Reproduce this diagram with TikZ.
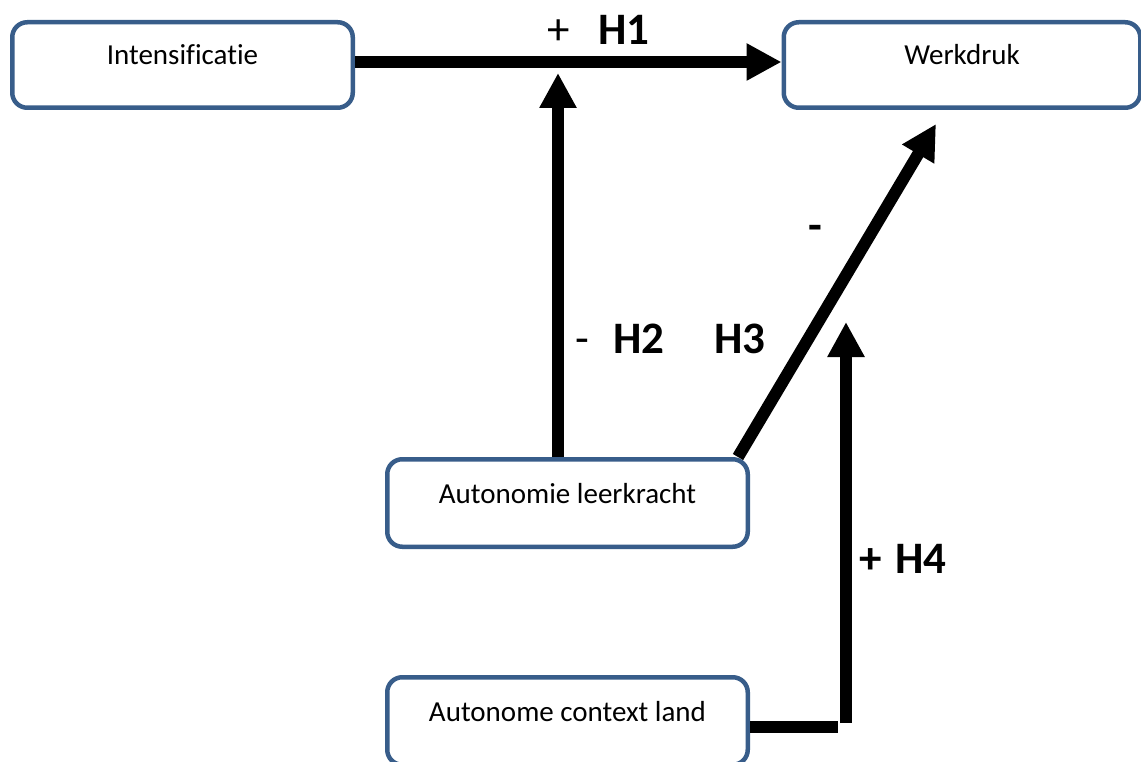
\documentclass[tikz,border=0pt]{standalone}
\usepackage{fontspec}
\setmainfont{Carlito}[Ligatures=NoCommon]
\usetikzlibrary{arrows.meta}
\definecolor{boxblue}{HTML}{385D8A}
\begin{document}
\begin{tikzpicture}[x=1pt,y=-1pt,
  box/.style={draw=boxblue, line width=4.5pt, fill=white, rounded corners=15pt, inner sep=0pt,
    text height=20pt, text depth=20pt, font=\fontsize{29}{35}\selectfont, align=center},
  conn/.style={line width=12pt, -{Triangle[length=35pt,width=35pt]}},
  plainline/.style={line width=12pt},
  lbl/.style={inner sep=0pt, anchor=base, font=\fontsize{45}{54}\selectfont\bfseries},
  lblr/.style={inner sep=0pt, anchor=base, font=\fontsize{45}{54}\selectfont}]
\useasboundingbox (0,0) rectangle (1141,762);
\clip (0,0) rectangle (1141,762);

\node[box, minimum width=340.5pt, minimum height=85.5pt] (int) at (182.5,65) {Intensificatie};
\node[box, minimum width=356.5pt, minimum height=85.5pt] (werk) at (962,65) {Werkdruk};
\node[box, minimum width=360.5pt, minimum height=87.5pt] (aut) at (567.5,503) {Autonomie leerkracht};
\node[box, minimum width=360.5pt, minimum height=87.5pt] (ctx) at (567.5,721) {Autonome context land};

\coordinate (h2tip) at (558,73);
\coordinate (h3tip) at (936,124);
\coordinate (h4corner) at (838,727);
\coordinate (h4bot) at (846,723);
\coordinate (h4tip) at (846,322);

\draw[conn] ([yshift=3pt]int.east) -- ([yshift=3pt]werk.west);
\draw[conn] (aut.north -| h2tip) -- (h2tip);
\draw[conn] ([xshift=-12pt]aut.north east) -- (h3tip);
\draw[plainline] ([yshift=-6pt]ctx.east) -- (h4corner);
\draw[conn] (h4bot) -- (h4tip);

\node[lblr] (p1) at (559,45) {+};
\node[lbl] (h1) at (624,45) {H1};
\node[lblr] (m2) at (582,353) {-};
\node[lbl] (h2) at (639,353) {H2};
\node[lbl] (h3) at (740,353) {H3};
\node[lbl] (m3) at (815,241) {-};
\node[lbl] (p4) at (871,573) {+};
\node[lbl] (h4) at (921,573) {H4};
\end{tikzpicture}
\end{document}
